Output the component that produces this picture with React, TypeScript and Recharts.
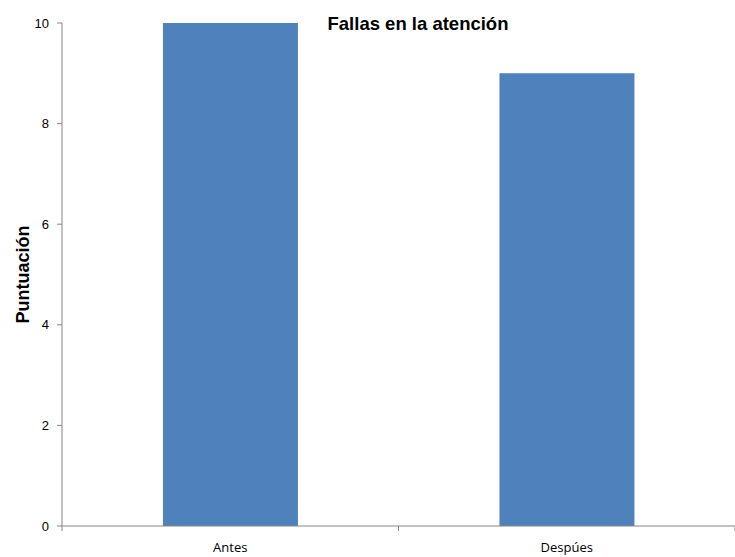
import { BarChart, Bar, XAxis, YAxis } from "recharts";

const categories = ["Antes", "Despúes"];
const puntuacion = [10, 9];
const yTicks = [0, 2, 4, 6, 8, 10];

const data = categories.map((name, i) => ({ name, value: puntuacion[i] }));

const BLUE = "#4F81BD";
const AXIS = "#868686";
const ARIAL = "'Liberation Sans', Arial, sans-serif";

// category label plus tick marks on the category boundaries (Excel style)
function CategoryTick(props: any) {
  const { x, y, payload, index, visibleTicksCount } = props;
  const half = payload.offset ?? 0;
  const last = index === visibleTicksCount - 1;
  return (
    <g>
      <line x1={x - half} x2={x - half} y1={y} y2={y + 5} stroke={AXIS} />
      {last && <line x1={x + half} x2={x + half} y1={y} y2={y + 5} stroke={AXIS} />}
      <text x={x} y={y + 26} textAnchor="middle" fill="#000"
        style={{ fontSize: 13, fontFamily: "'Open Sans', sans-serif" }}>
        {payload.value}
      </text>
    </g>
  );
}

export default function App() {
  return (
    <div style={{ position: "absolute", left: 0, top: 0, width: 735, height: 557, background: "#fff" }}>
      <BarChart
        width={735}
        height={557}
        data={data}
        margin={{ top: 23, right: 0, bottom: 0, left: 0 }}
        barCategoryGap="30%"
      >
        <text x={418} y={30} textAnchor="middle"
          style={{ fontFamily: ARIAL, fontSize: 18.5, fontWeight: 700, fill: "#000" }}>
          Fallas en la atención
        </text>
        <XAxis
          dataKey="name"
          height={31}
          tickSize={0}
          tickMargin={0}
          stroke={AXIS}
          tickLine={false}
          tick={<CategoryTick />}
        />
        <YAxis
          width={62}
          domain={[0, 10]}
          ticks={yTicks}
          tickSize={5}
          tickMargin={8}
          stroke={AXIS}
          tick={{ fontSize: 13, fill: "#000", fontFamily: ARIAL }}
          label={{
            value: "Puntuación",
            angle: -90,
            position: "insideLeft",
            offset: 23,
            style: { fontFamily: ARIAL, fontSize: 18, fontWeight: 700, fill: "#000", textAnchor: "middle" },
          }}
        />
        <Bar dataKey="value" fill={BLUE} isAnimationActive={false} />
      </BarChart>
    </div>
  );
}
